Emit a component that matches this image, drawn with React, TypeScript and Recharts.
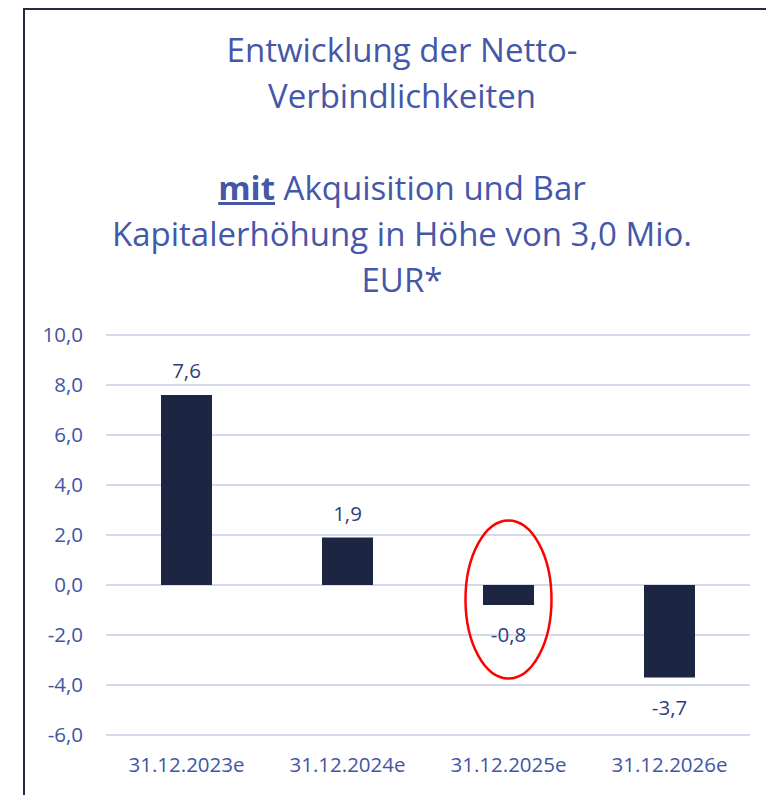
import React from "react";
import {
  BarChart,
  Bar,
  XAxis,
  YAxis,
  CartesianGrid,
  LabelList,
  ReferenceDot,
} from "recharts";

const categories = ["31.12.2023e", "31.12.2024e", "31.12.2025e", "31.12.2026e"];
const netDebt = [7.6, 1.9, -0.8, -3.7];
const yTicks = [-6, -4, -2, 0, 2, 4, 6, 8, 10];
const highlighted = "31.12.2025e";
const highlightCenter = -0.58;

const FONT = "'Open Sans', 'Liberation Sans', sans-serif";
const BAR = "#1C2541";
const TICK = "#4256A3";
const TITLE = "#4457A8";
const LABEL = "#2E3F80";
const GRID = "#D3D9EE";

const data = categories.map((name, i) => ({ name, value: netDebt[i] }));

const fmt = (v: number) => v.toFixed(1).replace(".", ",");

const ValueLabel = (props: any) => {
  const { x, y, width, height, value } = props;
  const top = Math.min(y, y + height);
  const bottom = Math.max(y, y + height);
  const cx = x + width / 2;
  const ty = value >= 0 ? top - 25 : bottom + 29;
  return (
    <text
      x={cx}
      y={ty}
      textAnchor="middle"
      dominantBaseline="central"
      fill={LABEL}
      fontSize={20.5}
      fontFamily={FONT}
    >
      {fmt(Number(value))}
    </text>
  );
};

const Ellipse = (props: any) => {
  const { cx, cy } = props;
  if (cx == null || cy == null) return null;
  return <ellipse cx={cx} cy={cy} rx={43} ry={79} fill="none" stroke="#FF0000" strokeWidth={2.5} />;
};

export default function App() {
  return (
    <div
      style={{
        position: "absolute",
        left: 0,
        top: 0,
        width: 766,
        height: 795,
        background: "#fff",
        overflow: "hidden",
        fontFamily: FONT,
      }}
    >
      <div
        style={{
          position: "absolute",
          left: 23,
          top: 8,
          width: 800,
          height: 820,
          border: "2px solid #262B42",
          boxSizing: "border-box",
        }}
      />
      <div
        style={{
          position: "absolute",
          left: 23,
          top: 27,
          width: 758,
          textAlign: "center",
          color: TITLE,
          fontSize: 33,
          lineHeight: "46px",
        }}
      >
        <div>Entwicklung der Netto-</div>
        <div>Verbindlichkeiten</div>
        <div>&nbsp;</div>
        <div>
          <span style={{ fontWeight: 700, textDecoration: "underline" }}>mit</span> Akquisition und Bar
        </div>
        <div>Kapitalerhöhung in Höhe von 3,0 Mio.</div>
        <div>EUR*</div>
      </div>
      <div style={{ position: "absolute", left: 0, top: 0 }}>
        <BarChart
          width={766}
          height={795}
          data={data}
          margin={{ top: 335, right: 16, bottom: 0, left: 0 }}
          barCategoryGap={55}
        >
          <CartesianGrid vertical={false} stroke={GRID} strokeWidth={2} />
          <XAxis
            dataKey="name"
            axisLine={false}
            tickLine={false}
            height={60}
            tickMargin={16}
            tick={{ fill: TICK, fontSize: 20.5, fontFamily: FONT }}
          />
          <YAxis
            width={106}
            domain={[-6, 10]}
            ticks={yTicks}
            axisLine={false}
            tickLine={false}
            tickMargin={17}
            tickFormatter={(v: number) => fmt(v)}
            tick={{ fill: TICK, fontSize: 20.5, fontFamily: FONT }}
          />
          <Bar dataKey="value" fill={BAR} isAnimationActive={false}>
            <LabelList dataKey="value" content={ValueLabel} />
          </Bar>
          <ReferenceDot x={highlighted} y={highlightCenter} shape={Ellipse} />
        </BarChart>
      </div>
    </div>
  );
}
